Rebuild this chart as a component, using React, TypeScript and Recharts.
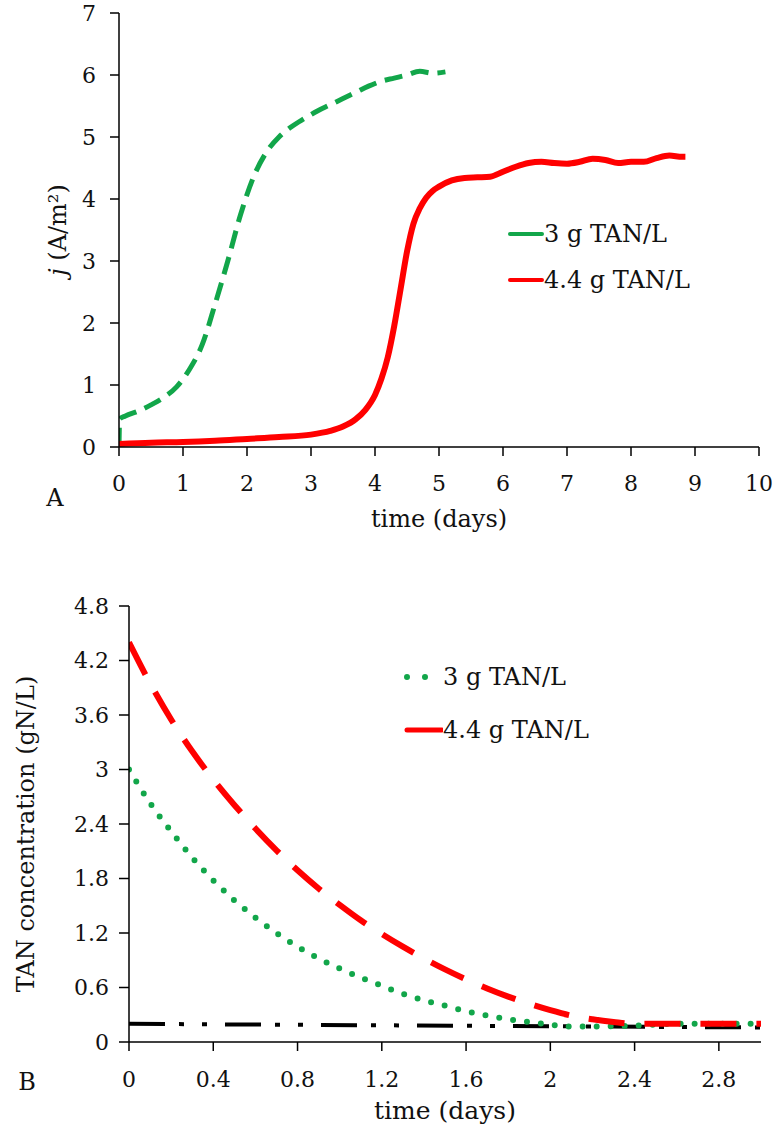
import React from 'react';
import { LineChart, Line, XAxis, YAxis, Legend } from 'recharts';

const FONT = '"DejaVu Serif", "Liberation Serif", serif';

// ---------- Panel A data: current density j (A/m2) vs time (days)
const seriesNames = ['3 g TAN/L', '4.4 g TAN/L'];
const colorGreen = '#12a64a';
const colorRed = '#ff0000';

const timeA3 = [0, 0.01, 0.1, 0.3, 0.5, 0.7, 0.9, 1.1, 1.3, 1.5, 1.7, 1.9, 2.1, 2.3, 2.5, 2.7, 2.9, 3.1, 3.3, 3.5, 3.7, 3.9, 4.1, 4.3, 4.5, 4.7, 4.9, 5.1];
const jA3 = [0.02, 0.45, 0.5, 0.58, 0.68, 0.8, 0.97, 1.25, 1.65, 2.3, 3.0, 3.75, 4.35, 4.75, 5.0, 5.17, 5.3, 5.42, 5.52, 5.62, 5.72, 5.82, 5.9, 5.95, 6.0, 6.06, 6.03, 6.05];

const timeA44 = [0, 0.5, 1, 1.5, 2, 2.5, 3, 3.3, 3.5, 3.7, 3.85, 4.0, 4.1, 4.2, 4.3, 4.4, 4.5, 4.6, 4.7, 4.8, 4.9, 5.0, 5.2, 5.4, 5.6, 5.8, 6.0, 6.2, 6.4, 6.6, 6.8, 7.0, 7.2, 7.4, 7.6, 7.8, 8.0, 8.2, 8.4, 8.6, 8.8, 8.85];
const jA44 = [0.05, 0.07, 0.08, 0.1, 0.13, 0.16, 0.2, 0.26, 0.33, 0.45, 0.6, 0.84, 1.1, 1.45, 1.95, 2.55, 3.15, 3.6, 3.85, 4.02, 4.13, 4.2, 4.3, 4.34, 4.35, 4.36, 4.44, 4.52, 4.58, 4.6, 4.58, 4.57, 4.6, 4.65, 4.63, 4.58, 4.6, 4.6, 4.66, 4.7, 4.68, 4.68];

const ticksAX = [0, 1, 2, 3, 4, 5, 6, 7, 8, 9, 10];
const ticksAY = [0, 1, 2, 3, 4, 5, 6, 7];

// ---------- Panel B data: TAN concentration (gN/L) vs time (days)
const timeB = [0, 0.1, 0.2, 0.3, 0.4, 0.5, 0.6, 0.7, 0.8, 0.9, 1.0, 1.1, 1.2, 1.3, 1.4, 1.5, 1.6, 1.7, 1.8, 1.9, 2.0, 2.1, 2.2, 2.3, 2.4, 2.6, 2.8, 3.0];
const tanB3 = [3.0, 2.63, 2.32, 2.03, 1.78, 1.56, 1.37, 1.2, 1.05, 0.92, 0.81, 0.71, 0.62, 0.53, 0.46, 0.4, 0.34, 0.29, 0.25, 0.22, 0.19, 0.17, 0.17, 0.175, 0.18, 0.2, 0.2, 0.2];
const tanB44 = [4.4, 3.95, 3.55, 3.2, 2.89, 2.61, 2.35, 2.11, 1.89, 1.69, 1.51, 1.34, 1.19, 1.05, 0.92, 0.8, 0.69, 0.59, 0.5, 0.42, 0.35, 0.29, 0.25, 0.22, 0.2, 0.2, 0.2, 0.2];
const timeLimit = [0, 3];
const tanLimit = [0.2, 0.16];

const ticksBX = [0, 0.4, 0.8, 1.2, 1.6, 2, 2.4, 2.8];
const ticksBY = [0, 0.6, 1.2, 1.8, 2.4, 3, 3.6, 4.2, 4.8];

const zip = (xs: number[], ys: number[]) => xs.map((t, i) => ({ t, v: ys[i] }));

const dataA3 = zip(timeA3, jA3);
const dataA44 = zip(timeA44, jA44);
const dataB3 = zip(timeB, tanB3);
const dataB44 = zip(timeB, tanB44);
const dataLimit = zip(timeLimit, tanLimit);

const axisStroke = '#000';
const tickStyle = { fill: '#111', fontSize: 22, fontFamily: FONT };

const YLabelA = (props: any) => {
  const vb = props.viewBox || { x: 0, y: 13, width: 119, height: 434 };
  const cx = 58;
  const cy = vb.y + vb.height / 2;
  return (
    <text x={cx} y={cy} transform={`rotate(-90, ${cx}, ${cy})`} textAnchor="middle" dominantBaseline="central" fontFamily={FONT} fontSize={24} fill="#111">
      <tspan fontStyle="italic">j</tspan>
      <tspan> (A/m²)</tspan>
    </text>
  );
};

const YLabelB = (props: any) => {
  const vb = props.viewBox || { x: 0, y: 46, width: 129, height: 436 };
  const cx = 26;
  const cy = vb.y + vb.height / 2 + 10;
  return (
    <text x={cx} y={cy} transform={`rotate(-90, ${cx}, ${cy})`} textAnchor="middle" dominantBaseline="central" fontFamily={FONT} fontSize={24} fill="#111">
      TAN concentration (gN/L)
    </text>
  );
};

const LegendA = () => (
  <div style={{ fontFamily: FONT, fontSize: 24, color: '#111' }}>
    {seriesNames.map((name, i) => (
      <div key={name} style={{ display: 'flex', alignItems: 'center', height: 46, whiteSpace: 'nowrap' }}>
        <svg width={36} height={10} style={{ display: 'block' }}>
          <line x1={2} y1={5} x2={34} y2={5} stroke={i === 0 ? colorGreen : colorRed} strokeWidth={4} strokeLinecap="round" />
        </svg>
        <span>{name}</span>
      </div>
    ))}
  </div>
);

const LegendB = () => (
  <div style={{ fontFamily: FONT, fontSize: 24, color: '#111' }}>
    {seriesNames.map((name, i) => (
      <div key={name} style={{ display: 'flex', alignItems: 'center', height: 53, whiteSpace: 'nowrap' }}>
        <svg width={43} height={10} style={{ display: 'block' }}>
          {i === 0 ? (
            <line x1={7} y1={5} x2={26} y2={5} stroke={colorGreen} strokeWidth={6} strokeLinecap="round" strokeDasharray="0 18" />
          ) : (
            <line x1={7} y1={5} x2={42} y2={5} stroke={colorRed} strokeWidth={5} strokeLinecap="round" />
          )}
        </svg>
        <span>{name}</span>
      </div>
    ))}
  </div>
);

export default function App() {
  return (
    <div style={{ position: 'absolute', left: 0, top: 0, width: 775, height: 1128, background: '#fff', fontFamily: FONT }}>
      <div style={{ position: 'absolute', left: 0, top: 0 }}>
        <LineChart width={775} height={550} margin={{ top: 13, right: 16, bottom: 0, left: 0 }}>
          <XAxis
            type="number"
            dataKey="t"
            domain={[0, 10]}
            ticks={ticksAX}
            interval={0}
            height={103}
            stroke={axisStroke}
            strokeWidth={1.5}
            tickSize={9}
            tickMargin={19}
            tick={tickStyle}
            allowDataOverflow
            label={{ value: 'time (days)', position: 'insideBottom', offset: 23, fontSize: 24, fontFamily: FONT, fill: '#111' }}
          />
          <YAxis
            type="number"
            domain={[0, 7]}
            ticks={ticksAY}
            interval={0}
            width={119}
            stroke={axisStroke}
            strokeWidth={1.5}
            tickSize={9}
            tickMargin={14}
            tick={tickStyle}
            label={(p: any) => <YLabelA {...p} />}
          />
          <Legend layout="vertical" align="center" verticalAlign="middle" content={LegendA} wrapperStyle={{ left: 508, top: 211, width: 240, height: 92 }} />
          <Line data={dataA3} dataKey="v" name={seriesNames[0]} type="monotone" stroke={colorGreen} strokeWidth={5} strokeDasharray="18 9" dot={false} isAnimationActive={false} />
          <Line data={dataA44} dataKey="v" name={seriesNames[1]} type="monotone" stroke={colorRed} strokeWidth={6} dot={false} isAnimationActive={false} />
        </LineChart>
      </div>
      <div style={{ position: 'absolute', left: 40, top: 484, width: 30, textAlign: 'center', fontSize: 24, fontFamily: FONT, color: '#111', lineHeight: '28px' }}>A</div>

      <div style={{ position: 'absolute', left: 0, top: 560 }}>
        <LineChart width={775} height={568} margin={{ top: 46, right: 14, bottom: 0, left: 0 }}>
          <XAxis
            type="number"
            dataKey="t"
            domain={[0, 3]}
            ticks={ticksBX}
            interval={0}
            height={86}
            stroke={axisStroke}
            strokeWidth={1.5}
            tickSize={9}
            tickMargin={20}
            tick={tickStyle}
            allowDataOverflow
            label={{ value: 'time (days)', position: 'insideBottom', offset: 9, fontSize: 25, fontFamily: FONT, fill: '#111' }}
          />
          <YAxis
            type="number"
            domain={[0, 4.8]}
            ticks={ticksBY}
            interval={0}
            width={129}
            stroke={axisStroke}
            strokeWidth={1.5}
            tickSize={10}
            tickMargin={10}
            tick={tickStyle}
            label={(p: any) => <YLabelB {...p} />}
          />
          <Legend layout="vertical" align="center" verticalAlign="middle" content={LegendB} wrapperStyle={{ left: 400, top: 90, width: 260, height: 106 }} />
          <Line data={dataLimit} dataKey="v" name="limit" type="linear" stroke="#000" strokeWidth={4} strokeDasharray="36 14 5 18 5 18" dot={false} isAnimationActive={false} legendType="none" />
          <Line data={dataB3} dataKey="v" name={seriesNames[0]} type="monotone" stroke={colorGreen} strokeWidth={6} strokeLinecap="round" strokeDasharray="0 14" dot={false} isAnimationActive={false} />
          <Line data={dataB44} dataKey="v" name={seriesNames[1]} type="monotone" stroke={colorRed} strokeWidth={6} strokeDasharray="36 20" dot={false} isAnimationActive={false} />
        </LineChart>
      </div>
      <div style={{ position: 'absolute', left: 12, top: 1068, width: 30, textAlign: 'center', fontSize: 24, fontFamily: FONT, color: '#111', lineHeight: '28px' }}>B</div>
    </div>
  );
}
